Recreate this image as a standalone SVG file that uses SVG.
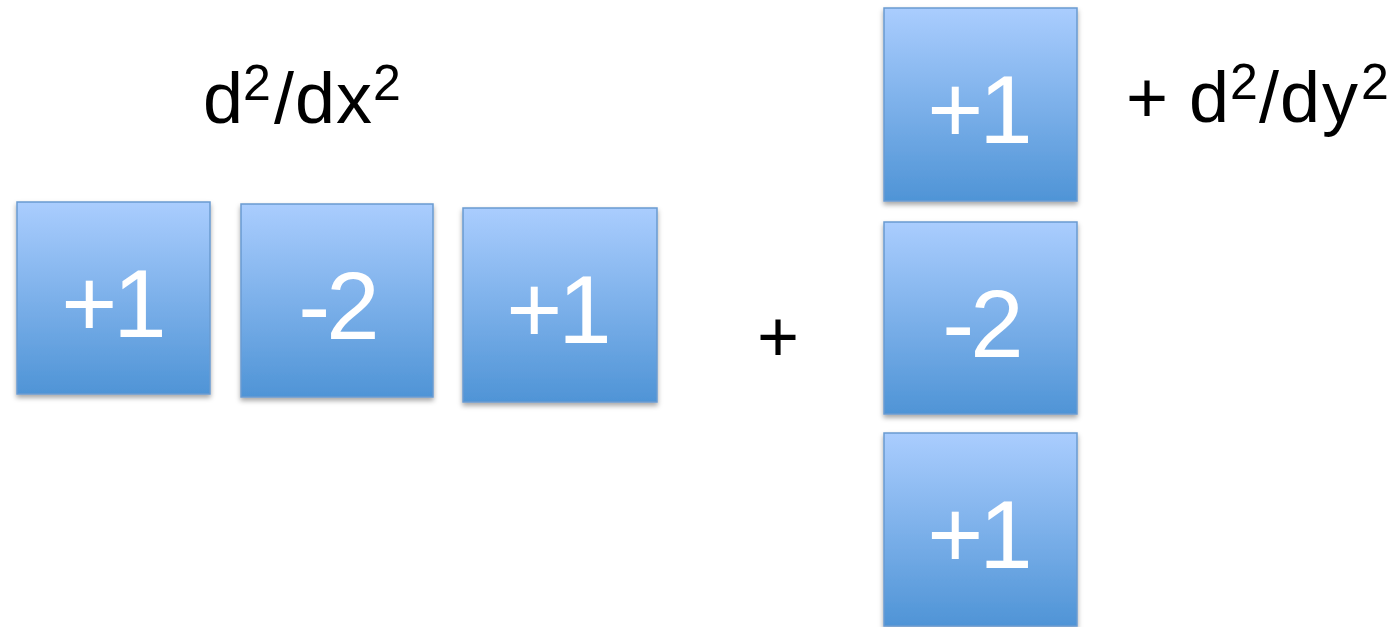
<svg xmlns="http://www.w3.org/2000/svg" width="1396" height="627" viewBox="0 0 1396 627">
<defs>
<linearGradient id="g" x1="0" y1="0" x2="0" y2="1">
<stop offset="0" stop-color="#aacdfe"/>
<stop offset="1" stop-color="#4f94d6"/>
</linearGradient>
<filter id="sh" x="-10%" y="-10%" width="120%" height="125%">
<feDropShadow dx="0" dy="3" stdDeviation="2.5" flood-color="#000" flood-opacity="0.35"/>
</filter>
</defs>
<style>
.box{fill:url(#g);stroke:#6a9bd1;stroke-width:1.5;filter:url(#sh)}
.num{font-family:"Liberation Sans",Arial,sans-serif;font-size:96px;fill:#fff;text-anchor:middle;letter-spacing:-4px}
.lab{font-family:"Liberation Sans",Arial,sans-serif;font-size:72px;fill:#000}
.sup{font-size:50px}
</style>
<rect width="1396" height="627" fill="#fff"/>
<g id="label-dx">
<text class="lab" y="123"><tspan x="203">d</tspan><tspan class="sup" x="243" y="100">2</tspan><tspan x="274" y="123">/</tspan><tspan x="295">d</tspan><tspan x="336">x</tspan><tspan class="sup" x="373" y="100">2</tspan></text>
</g>
<g id="label-dy">
<text class="lab" y="122"><tspan x="1126">+</tspan><tspan x="1189">d</tspan><tspan class="sup" x="1230" y="99">2</tspan><tspan x="1259" y="122">/</tspan><tspan x="1280">d</tspan><tspan x="1322">y</tspan><tspan class="sup" x="1361" y="99">2</tspan></text>
</g>
<g id="plus">
<text class="lab" x="757" y="361">+</text>
</g>
<g id="h1"><rect class="box" x="17" y="202" width="193" height="192"/><text class="num" x="112" y="337">+1</text></g>
<g id="h2"><rect class="box" x="241" y="204" width="192" height="193"/><text class="num" x="337" y="339">-2</text></g>
<g id="h3"><rect class="box" x="463" y="208" width="194" height="194"/><text class="num" x="557" y="343">+1</text></g>
<g id="v1"><rect class="box" x="884" y="8" width="193" height="193"/><text class="num" x="978" y="143">+1</text></g>
<g id="v2"><rect class="box" x="884" y="222" width="193" height="192"/><text class="num" x="981" y="357">-2</text></g>
<g id="v3"><rect class="box" x="884" y="433" width="193" height="193"/><text class="num" x="978" y="568">+1</text></g>
<g id="connectors"></g>
</svg>
